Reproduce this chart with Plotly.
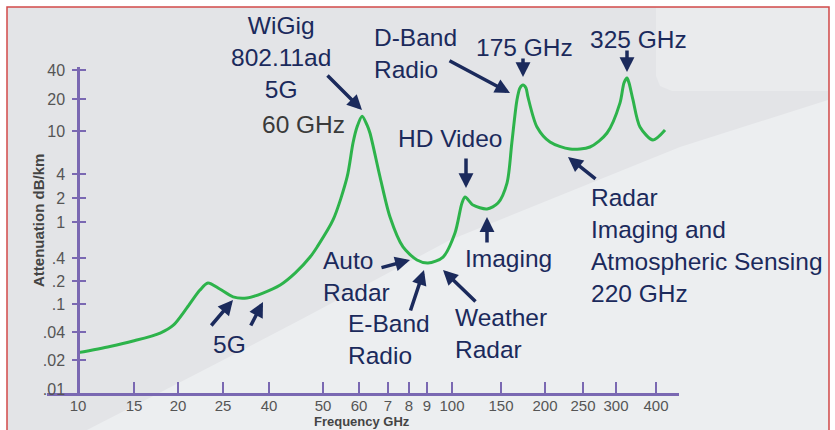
import numpy as np
import plotly.graph_objects as go

# Atmospheric attenuation at sea level (GHz, dB/km)
freq_ghz = [10, 12.6, 14.9, 17.8, 19.4, 20.9, 22.3, 23.2, 24.6, 27.7, 31.9, 37.6,
            41.9, 44.6, 47.4, 48.8, 52.6, 56.5, 58.2, 59.4, 61.0, 62.6, 63.6,
            67.1, 70.9, 77.0, 84.3, 90.4, 96.3, 102.5, 108.6, 111.4, 119, 133.6,
            146.3, 156, 161, 166.5, 169.8, 173.2, 176.6, 178.9, 189.8, 206, 231.6,
            259.8, 285.5, 308.8, 317.7, 324.7, 329.5, 339, 356.5, 391.5, 426.8]
atten_db_km = [0.024, 0.028, 0.032, 0.039, 0.050, 0.088, 0.152, 0.188, 0.157, 0.124,
               0.120, 0.139, 0.177, 0.255, 0.41, 0.53, 1.06, 3.67, 7.75, 10.9,
               13.8, 11.4, 9.58, 3.67, 1.155, 0.53, 0.377, 0.344, 0.41, 0.755, 1.73,
               2.06, 1.63, 1.46, 1.73, 3.08, 7.75, 19.6, 26.0, 27.9, 26.0, 21.0, 10.9,
               7.9, 6.81, 7.11, 9.58, 18.4, 29.3, 33.0, 29.3, 19.6, 10.9, 8.26, 10.2]

# Hand-spaced frequency scale: labelled values and their place along the axis
x_tick_ghz = [10, 15, 20, 25, 40, 50, 60, 70, 80, 90, 100, 150, 200, 250, 300, 400]
x_tick_text = ["10", "15", "20", "25", "40", "50", "60", "7", "8", "9",
               "100", "150", "200", "250", "300", "400"]
x_tick_pos = [0, 56, 100, 145, 191, 245, 281, 310, 331, 349, 374, 423, 467, 505, 538, 578]

# Attenuation scale
y_tick_val = [0.01, 0.02, 0.04, 0.1, 0.2, 0.4, 1, 2, 4, 10, 20, 40]
y_tick_text = [".01", ".02", ".04", ".1", ".2", ".4", "1", "2", "4", "10", "20", "40"]
y_tick_pos = [4, 33, 61, 89, 112, 135, 171, 195, 219, 262, 294, 323]


def to_axis(values, tick_vals, tick_pos):
    """Map values onto the piecewise-logarithmic scale defined by the ticks."""
    lv = np.log10(np.asarray(values, float))
    lt = np.log10(np.asarray(tick_vals, float))
    tp = np.asarray(tick_pos, float)
    out = np.interp(lv, lt, tp)
    hi = lv > lt[-1]
    out[hi] = tp[-1] + (lv[hi] - lt[-1]) * (tp[-1] - tp[-2]) / (lt[-1] - lt[-2])
    lo = lv < lt[0]
    out[lo] = tp[0] + (lv[lo] - lt[0]) * (tp[1] - tp[0]) / (lt[1] - lt[0])
    return out


W, H = 835, 430
L, R, T, B = 47, 679, 67, 393          # plot area in page pixels
X_RANGE = [-31, 601]
Y_RANGE = [0, 326]


def pp(x, y):
    """Page pixel -> paper coordinates."""
    return (x - L) / (R - L), (B - y) / (B - T)


def path(points):
    segs = []
    for i, (x, y) in enumerate(points):
        px_, py_ = pp(x, y)
        segs.append(("M" if i == 0 else "L") + f"{px_:.5f},{py_:.5f}")
    return " ".join(segs) + " Z"


AXIS = "#7a68b2"
NAVY = "#1b2a5c"
FONT = "Liberation Sans, Arial, sans-serif"

fig = go.Figure()
fig.add_trace(go.Scatter(
    x=to_axis(freq_ghz, x_tick_ghz, x_tick_pos),
    y=to_axis(atten_db_km, y_tick_val, y_tick_pos),
    customdata=np.column_stack([freq_ghz, atten_db_km]),
    hovertemplate="%{customdata[0]} GHz<br>%{customdata[1]} dB/km<extra></extra>",
    mode="lines",
    line=dict(color="#2db34b", width=3, shape="spline", smoothing=0.8),
    showlegend=False,
))

# background panel
shapes = [
    dict(type="rect", xref="paper", yref="paper",
         x0=pp(7, 0)[0], x1=pp(829, 0)[0], y0=pp(0, 445)[1], y1=pp(0, 7)[1],
         fillcolor="#e3e4e7", line=dict(color="#d24a4a", width=1.5), layer="below"),
    dict(type="path", xref="paper", yref="paper", layer="below",
         path=path([(85, 431), (200, 372), (300, 320), (450, 240), (680, 147),
                    (828, 100), (828, 431)]),
         fillcolor="#eceef0", line=dict(width=0)),
    dict(type="path", xref="paper", yref="paper", layer="below",
         path=path([(656, 8), (828, 8), (828, 91), (672, 91), (660, 86), (656, 76)]),
         fillcolor="#eaebed", line=dict(width=0)),
]

annotations = []


def text(s, x, y, color=NAVY, size=24.5, xanchor="center", align="center", **kw):
    ax_, ay_ = pp(x, y)
    annotations.append(dict(text=s, x=ax_, y=ay_, xref="paper", yref="paper",
                            xanchor=xanchor, yanchor="middle", align=align,
                            showarrow=False, font=dict(family=FONT, size=size, color=color),
                            **kw))


def arrow(tail, head):
    hx, hy = pp(*head)
    annotations.append(dict(text="", x=hx, y=hy, xref="paper", yref="paper",
                            ax=tail[0] - head[0], ay=tail[1] - head[1],
                            showarrow=True, arrowhead=2, arrowsize=0.85,
                            arrowwidth=3.5, arrowcolor=NAVY, standoff=0))


text("WiGig<br>802.11ad<br>5G", 281, 58)
text("60 GHz", 303, 124, color="#3a3a3a")
text("D-Band<br>Radio", 372, 53, xanchor="left", align="left")
text("175 GHz", 524, 48)
text("325 GHz", 638, 39)
text("HD Video", 450, 138)
text("Imaging", 508, 258)
text("Auto<br>Radar", 321, 276, xanchor="left", align="left")
text("E-Band<br>Radio", 346, 339, xanchor="left", align="left")
text("Weather<br>Radar", 453, 333, xanchor="left", align="left")
text("5G", 229, 344)
text("Radar<br>Imaging and<br>Atmospheric Sensing<br>220 GHz", 589, 246,
     xanchor="left", align="left")

arrow((326, 74), (362, 110))
arrow((448, 60), (510, 93))
arrow((523, 57), (523, 77))
arrow((627, 49), (627, 72))
arrow((466, 157), (466, 188))
arrow((487, 244), (487, 217))
arrow((380, 268), (410, 260))
arrow((410, 312), (424, 270))
arrow((477, 303), (443, 270))
arrow((597, 180), (568, 157))
arrow((210, 327), (233, 300))
arrow((250, 327), (263, 302))

# axis titles
text("<b>Frequency GHz</b>", 362, 421, color="#444444", size=13)
text("<b>Attenuation dB/km</b>", 38, 221, color="#444444", size=15, textangle=-90)

y_pos_paper = (78 - L) / (R - L)
x_tick_font = dict(family=FONT, size=15, color="#555555")
y_tick_font = dict(family=FONT, size=16, color="#555555")
ticked_y = y_tick_pos[1:]

fig.update_layout(
    width=W, height=H,
    margin=dict(l=L, r=W - R, t=T, b=H - B, pad=0),
    paper_bgcolor="white",
    plot_bgcolor="rgba(0,0,0,0)",
    shapes=shapes,
    annotations=annotations,
    xaxis=dict(range=X_RANGE, showgrid=False, zeroline=False,
               showline=True, linecolor=AXIS, linewidth=2.5,
               tickmode="array", tickvals=x_tick_pos, ticktext=x_tick_text,
               ticks="inside", ticklen=11, tickwidth=2, tickcolor=AXIS,
               tickfont=x_tick_font, ticklabelstandoff=-3),
    yaxis=dict(range=Y_RANGE, showgrid=False, zeroline=False,
               anchor="free", position=y_pos_paper,
               showline=True, linecolor=AXIS, linewidth=2.5,
               tickmode="array", tickvals=y_tick_pos, ticktext=y_tick_text,
               ticks="", tickfont=y_tick_font, ticklabelstandoff=9),
    yaxis2=dict(range=Y_RANGE, overlaying="y", anchor="free", position=y_pos_paper,
                showgrid=False, zeroline=False, showline=False,
                tickmode="array", tickvals=ticked_y, showticklabels=False,
                ticks="outside", ticklen=6, tickwidth=2, tickcolor=AXIS),
    yaxis3=dict(range=Y_RANGE, overlaying="y", anchor="free", position=y_pos_paper,
                showgrid=False, zeroline=False, showline=False,
                tickmode="array", tickvals=ticked_y, showticklabels=False,
                ticks="inside", ticklen=7, tickwidth=2, tickcolor=AXIS),
)

# invisible traces so the tick-only overlay axes are drawn
for ax_name in ("y2", "y3"):
    fig.add_trace(go.Scatter(x=[None], y=[None], yaxis=ax_name, showlegend=False,
                             hoverinfo="skip"))

fig.write_html("out.html")
